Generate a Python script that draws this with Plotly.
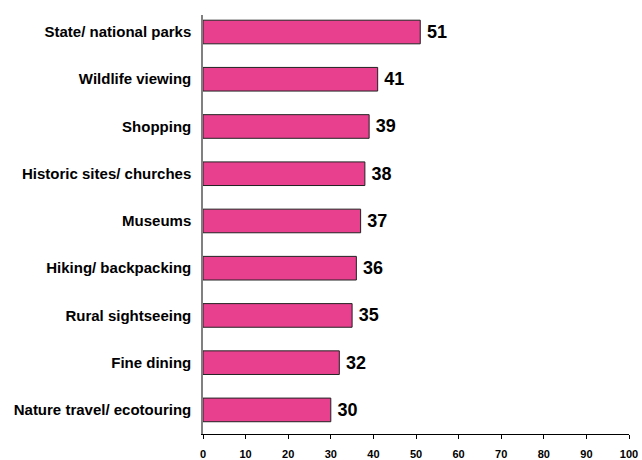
import plotly.graph_objects as go

# Activities, listed bottom to top
activities = [
    "Nature travel/ ecotouring",
    "Fine dining",
    "Rural sightseeing",
    "Hiking/ backpacking",
    "Museums",
    "Historic sites/ churches",
    "Shopping",
    "Wildlife viewing",
    "State/ national parks",
]
percentages = [30, 32, 35, 36, 37, 38, 39, 41, 51]
x_ticks = list(range(0, 101, 10))

fig = go.Figure(
    go.Bar(
        x=percentages,
        y=list(range(len(activities))),
        orientation="h",
        width=0.5,
        marker=dict(color="#E8408F", line=dict(color="#222222", width=1)),
        text=[str(v) for v in percentages],
        textposition="outside",
        textfont=dict(family="Arial, Liberation Sans", size=18, color="#000000"),
        texttemplate="\u2009<b>%{text}</b>",
        cliponaxis=False,
        hoverinfo="skip",
    )
)

fig.update_layout(
    width=642,
    height=460,
    margin=dict(l=203, r=13, t=15, b=26, autoexpand=False),
    paper_bgcolor="white",
    plot_bgcolor="white",
    showlegend=False,
    font=dict(family="Arial, Liberation Sans", color="#000000"),
)

fig.update_xaxes(
    range=[0, 100],
    tickmode="array",
    tickvals=x_ticks,
    ticktext=[f"<b>{t}</b>" for t in x_ticks],
    ticks="outside",
    ticklen=4,
    tickcolor="#000000",
    tickfont=dict(size=11),
    ticklabelstandoff=6,
    showline=True,
    linecolor="#000000",
    linewidth=1,
    showgrid=False,
    zeroline=False,
    automargin=False,
    fixedrange=True,
)

fig.update_yaxes(
    range=[-0.51, 8.36],
    tickmode="array",
    tickvals=list(range(len(activities))),
    ticktext=[f"<b>{a}</b>" for a in activities],
    ticks="",
    ticklabelstandoff=7,
    tickfont=dict(size=15),
    showline=True,
    linecolor="#808080",
    linewidth=1.5,
    showgrid=False,
    zeroline=False,
    automargin=False,
    fixedrange=True,
)

fig.write_html("out.html")
